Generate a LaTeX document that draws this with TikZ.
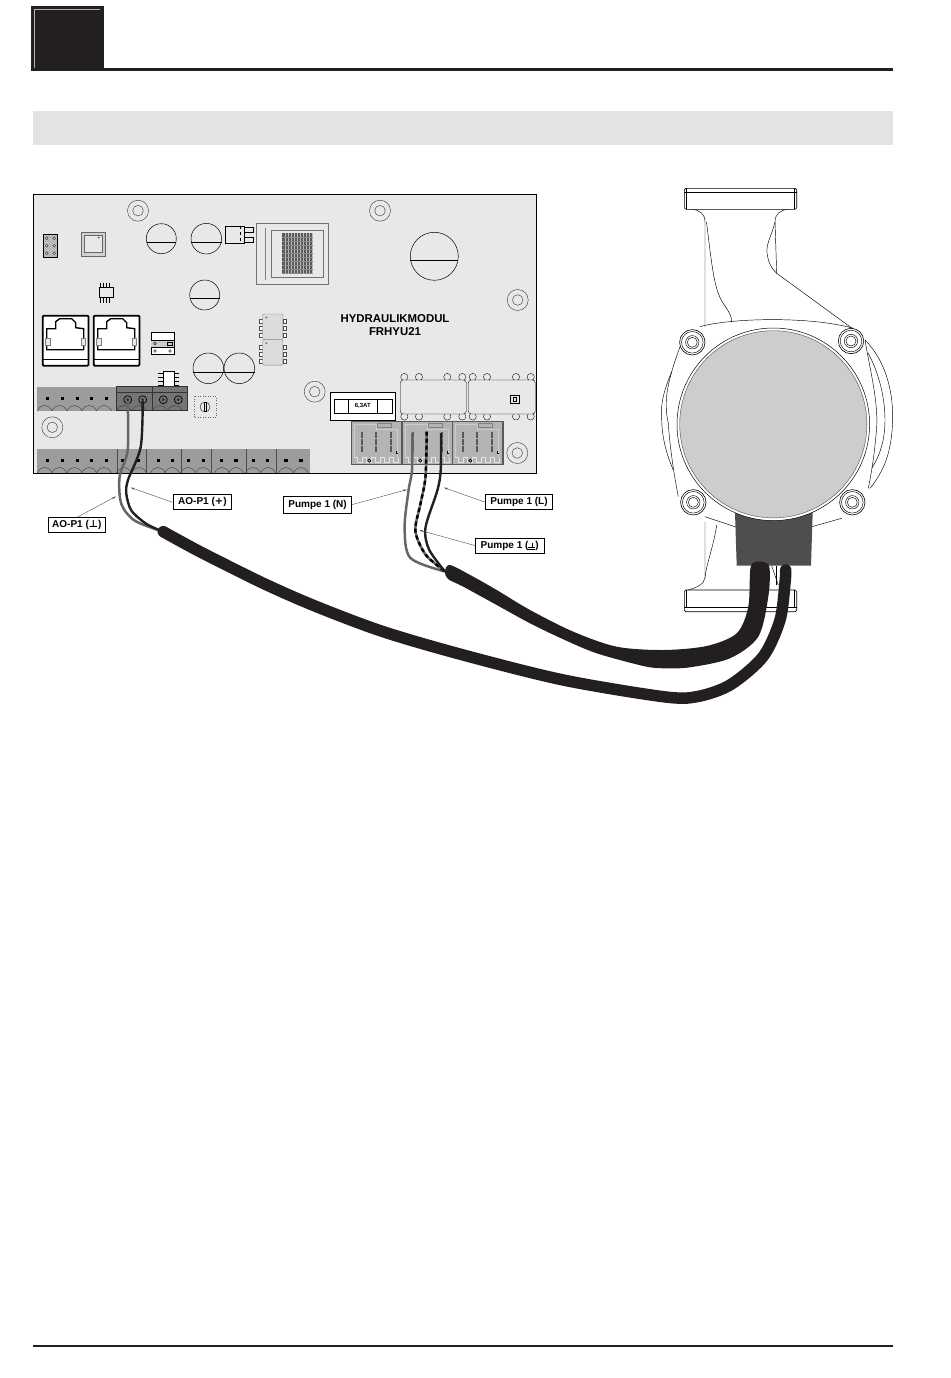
\documentclass[tikz,border=0pt]{standalone}
\usepackage{fontspec}
\setmainfont{Liberation Sans}
\newfontfamily\glyphfont{DejaVu Sans}
\usetikzlibrary{arrows.meta}

\definecolor{boardgray}{HTML}{E8E8E8}
\definecolor{termgray}{HTML}{9C9C9C}
\definecolor{termdark}{HTML}{757575}
\definecolor{plugkgray}{HTML}{B4B4B4}
\definecolor{ink}{HTML}{231F20}
\definecolor{stator}{HTML}{CDCDCE}
\definecolor{boxgray}{HTML}{4F4D4D}

% earth mark, no listed font has it
\newcommand{\earthmark}{\makebox[7pt]{\rlap{\rule[-1.6pt]{7pt}{0.8pt}}\rlap{\rule[0.6pt]{7pt}{0.8pt}}\hspace{3.1pt}\rule[0.6pt]{0.8pt}{5pt}\hspace{3.1pt}}}

\begin{document}
\begin{tikzpicture}[x=1pt,y=-1pt,
    part/.style={draw=black, line width=0.35pt},
    partfill/.style={part, fill=boardgray},
    hole/.style={draw=black!80, line width=0.4pt},
    capline/.style={draw=black, line width=0.5pt},
    termline/.style={draw=black!75, line width=0.4pt},
    outline/.style={draw=black, line width=0.45pt},
    tag/.style={draw=black, fill=white, line width=0.7pt, inner sep=0pt, font=\bfseries\fontsize{10}{11}\selectfont},
    leader/.style={-{Stealth[length=4pt,width=2pt]}, draw=black!70, line width=0.4pt},
    wiregray/.style={draw=black!60, line width=2.5pt},
    wireblack/.style={draw=ink, line width=2.4pt},
    cable/.style={draw=ink, line cap=round}
]
    % Page head and foot
    \fill[ink] (31,6) rectangle (103.5,71);
    \draw[white!70!black, line width=0.7pt] (34.7,68) -- (34.7,9.3) -- (100,9.3);
    \draw[ink, line width=3pt] (103,69.7) -- (893,69.7);
    \fill[black!11] (33,111) rectangle (893,145);
    \draw[ink, line width=2pt] (33,1346) -- (893,1346);

    % Board
    \draw[fill=boardgray, draw=black, line width=0.9pt] (33.5,194.5) rectangle (536.5,473.5);

    % Mounting holes
    \foreach \x/\y in {138/210.7, 380/210.7, 517.7/300, 314.7/391.7, 517.3/453, 52.3/427.3} {
        \draw[hole] (\x,\y) circle (10.5);
        \draw[hole] (\x,\y) circle (5.3);
    }

    % Capacitors
    \foreach \x/\y/\r in {161.3/238.7/15, 206.3/238.7/15.3, 204.7/295/15, 208.3/368.3/15.3, 239.3/368.3/15.3, 434.3/256.3/24} {
        \draw[capline] (\x,\y) circle (\r);
    }
    \draw[capline] (146.6,242) -- (176,242);
    \draw[capline] (191.1,242) -- (221.5,242);
    \draw[capline] (189.8,298) -- (219.6,298);
    \draw[capline] (193,372) -- (223.5,372);
    \draw[capline] (224,372) -- (254.5,372);
    \draw[capline] (410.4,260.3) -- (458.1,260.3);

    % Pin header and square chip
    \draw[part, fill=boardgray!80!black] (43.3,234.3) rectangle (57.3,256.7);
    \foreach \y in {238.3, 245.7, 253.3} {
        \draw[part, fill=white] (46.7,\y) circle (1.4);
        \draw[part, fill=white] (54.3,\y) circle (1.4);
    }
    \draw[draw=black!60, line width=0.5pt, fill=boardgray!90!black] (81,232.3) rectangle (105,256.7);
    \draw[draw=black!60, line width=0.5pt, fill=boardgray] (84.3,235.3) rectangle (102,252.7);
    \fill[black!60] (98.7,237.5) circle (1.2);

    % Small chip above the sockets
    \foreach \x in {100.5, 103.5, 106.5, 109.5} {
        \draw[black, line width=0.8pt] (\x,282.7) -- (\x,287.7);
        \draw[black, line width=0.8pt] (\x,297.3) -- (\x,302.7);
    }
    \draw[black, line width=0.9pt, fill=boardgray] (99.3,287.7) rectangle (113.3,297.3);

    % Sockets
    \foreach \x in {42.7, 93.7} {
        \begin{scope}[shift={(\x,315.7)}]
            \draw[draw=black, fill=white, line width=1.8pt, rounded corners=1pt] (0,0) rectangle (45.8,50);
            \draw[black, line width=0.4pt] (0,43) -- (45.8,43);
            \draw[black, line width=1.4pt] (4,34) -- (4,13) -- (13,13) -- (13,6) -- (17,3) -- (29,3) -- (33,7) -- (33,12) -- (41,13) -- (41,34) -- cycle;
            \draw[draw=black!50, fill=boardgray, line width=0.3pt] (2.5,22) rectangle (7,29);
            \draw[draw=black!50, fill=boardgray, line width=0.3pt] (38,22) rectangle (42.5,29);
        \end{scope}
    }

    % Small switch
    \draw[part, fill=white] (151.3,332.3) rectangle (174,354.3);
    \fill[black!20] (151.3,340) rectangle (174,346.7);
    \draw[part] (151.3,340) -- (174,340) (151.3,346.7) -- (174,346.7);
    \foreach \x/\y in {155/343.5, 155/351, 170/351} {\draw[part] (\x,\y) circle (1.4);}
    \draw[part] (167.5,342) rectangle (172,345.5);

    % Optocouplers
    \foreach \y in {314, 339.7} {
        \foreach \o in {5, 12, 19} {
            \draw[draw=black!70, line width=0.35pt, fill=white] (259.5,\y+\o) rectangle (262.7,\y+\o+4);
            \draw[draw=black!70, line width=0.35pt, fill=white] (282.7,\y+\o) rectangle (286,\y+\o+4);
        }
        \draw[draw=black!50, fill=boardgray!95!black, line width=0.4pt, rounded corners=1pt] (262.7,\y) rectangle (282.7,\y+25.4);
        \fill[black!60] (266.3,\y+3.5) circle (1);
    }

    % Transistor
    \draw[part, fill=boardgray] (244,226.7) -- (253.3,226.7) -- (253.3,231.7) -- (244,231.7) (244,236.7) -- (253.3,236.7) -- (253.3,241.7) -- (244,241.7);
    \draw[part, fill=boardgray] (225,226) rectangle (244,243.3);
    \draw[part, dashed, line width=0.3pt] (240,226) -- (240,243.3);

    % Transformer
    \draw[draw=black!55, line width=0.5pt, fill=boardgray] (256.3,223) rectangle (328.3,284.3);
    \draw[black!50, line width=0.4pt] (265,228) -- (265,280);
    \draw[draw=black!55, line width=0.5pt, fill=boardgray] (271.7,230) rectangle (323.3,277.3);
    \fill[black!65] (282.3,233.3) rectangle (312.7,273.3);
    \foreach \x in {285, 288, ..., 312} {\draw[black!25, line width=0.35pt] (\x,233.3) -- (\x,273.3);}
    \foreach \y in {237, 241, ..., 273} {\draw[black!45, line width=0.25pt] (282.3,\y) -- (312.7,\y);}

    % Chip above the terminals
    \foreach \y in {373, 377.5, 381.5, 385.5} {
        \draw[black, line width=0.8pt] (158.3,\y) -- (179,\y);
    }
    \draw[black, line width=0.6pt, fill=white] (163.3,371) rectangle (174,387);

    % Terminal strips
    \fill[termgray] (37.3,386.7) rectangle (116.7,411.3);
    \fill[termdark] (116.7,386.7) rectangle (187.7,410.7);
    \fill[termgray] (37.3,449.3) rectangle (310,473);
    \draw[black!80, line width=0.5pt] (116.7,386.7) rectangle (152.7,410.7) (152.7,386.7) rectangle (187.7,410.7);
    \draw[black!80, line width=0.5pt] (116.7,392) -- (187.7,392);
    \foreach \x in {116.7, 146, 181, 211, 246, 276} {\draw[black!70, line width=0.4pt] (\x,449.3) -- (\x,473);}
    \foreach \x in {44.7, 59.5, 74.5, 89.2, 104, 124, 139, 160, 175} {
        \draw[termline] (\x-7.5,411) .. controls (\x-4,403.5) and (\x+4,403.5) .. (\x+7.5,411);
    }
    \foreach \x in {44.7, 59.5, 74.5, 89.2, 104, 124, 139, 158, 172, 188, 203, 222, 236, 253, 268, 286, 301} {
        \draw[termline] (\x-7.5,473) .. controls (\x-4,465.5) and (\x+4,465.5) .. (\x+7.5,473);
    }
    \foreach \x in {47.7, 62.3, 77.3, 91.7, 106.7} {\fill[black] (\x-1.7,397) rectangle (\x+1.7,400.4);}
    \foreach \x in {47.7, 62.3, 77.3, 91.7, 106.7, 123, 138, 158.3, 172.3, 188.3, 203.3, 221.7, 236, 253.3, 267.7, 286, 301} {
        \fill[black] (\x-1.7,459) rectangle (\x+1.7,462.4);
    }
    \foreach \x in {127.7, 142.7, 163.3, 178.3} {
        \draw[draw=black, fill=black!55, line width=0.7pt] (\x,399.7) circle (4);
        \fill[black!80] (\x,399.7) circle (1.7);
    }

    % Trim pot
    \draw[draw=black!60, dotted, line width=0.5pt, fill=boardgray] (194.3,396) rectangle (216,417.5);
    \draw[part] (205,407) circle (5);
    \draw[part] (204,402) rectangle (206,411);

    % Fuse
    \draw[draw=black, fill=white, line width=0.8pt] (330.3,392.3) rectangle (395.3,420.3);
    \draw[draw=black, line width=0.6pt] (334.3,399) rectangle (392.3,413);
    \draw[draw=black, line width=0.6pt] (348.3,399) -- (348.3,413) (377.3,399) -- (377.3,413);
    \node[font=\bfseries\fontsize{6}{7}\selectfont, inner sep=0pt] (fuselabel) at (362.8,406) {6,3AT};

    % Relays
    \foreach \x in {404.3, 419, 447.3, 462.3, 472.7, 487, 516, 530.7} {
        \draw[partfill] (\x,377) circle (3.6);
        \draw[partfill] (\x,416.5) circle (3.6);
    }
    \draw[partfill, rounded corners=3pt] (400.3,380) rectangle (466.3,414);
    \draw[partfill, rounded corners=3pt] (468.3,380) rectangle (535.3,414);
    \draw[black, line width=0.5pt] (510.7,395) rectangle (519.3,403.3);
    \draw[black, line width=0.5pt] (513.5,397.5) rectangle (516.5,400.8);

    % Pump plugs
    \foreach \x in {351.3, 402.3, 452.3} {
        \begin{scope}[shift={(\x,421.7)}]
            \draw[draw=black!65, fill=plugkgray, line width=1.2pt] (0,0) rectangle (50.6,42.6);
            \draw[white!80!black, line width=0.5pt] (3,36) -- (3,3) -- (25,3) -- (25,8) -- (46,8) -- (46,36);
            \draw[black!50, line width=0.5pt] (26,2) -- (40,2) -- (40,6) -- (26,6) -- cycle;
            \draw[white!90!black, line width=0.5pt] (3,36) -- (6,36) -- (6,41) -- (11,41) -- (11,36) -- (15,36) -- (15,41) -- (20,41) -- (20,36) -- (24,36) -- (24,41) -- (29,41) -- (29,36) -- (33,36) -- (33,41) -- (38,41) -- (38,36) -- (42,36) -- (42,41) -- (47,41) -- (47,36);
            \draw[black, line width=0.7pt] (18,39) circle (1.6);
            \draw[black, line width=0.5pt] (44.5,29) -- (44.5,32) -- (46.5,32);
            \foreach \o in {10.3, 24.7, 39.7} {
                \draw[black!65, line width=2pt, dash pattern=on 3pt off 0.5pt] (\o,10) -- (\o,31);
            }
        \end{scope}
    }

    % Wires
    \coordinate (aoground) at (127.7,401);
    \coordinate (aoplus) at (142.7,401);
    \coordinate (pumpneutral) at (412.3,433);
    \coordinate (pumpearth) at (426.7,431.7);
    \coordinate (pumpline) at (441,433);
    \coordinate (cableaostart) at (163.3,531.7);
    \coordinate (cablepumpstart) at (445,571.5);
    \draw[wiregray] plot[smooth] coordinates {(aoground) (127.7,450) (119.6,476.8) (121.3,503.8) (134.8,520.7) (cableaostart)};
    \draw[wireblack] plot[smooth] coordinates {(aoplus) (140.7,447) (128,480) (126.3,493.7) (131.4,510.6) (146.6,524) (cableaostart)};
    \draw[wiregray] plot[smooth] coordinates {(pumpneutral) (412,470) (408.6,490) (404.6,527.5) (410.3,557.9) (cablepumpstart)};
    \draw[wiregray] plot[smooth] coordinates {(pumpearth) (425.5,476.8) (420.5,503.8) (415.4,530.9) (425.5,554.5) (cablepumpstart)};
    \draw[black, line width=2.4pt, dash pattern=on 4pt off 3pt] plot[smooth] coordinates {(pumpearth) (425.5,476.8) (420.5,503.8) (415.4,530.9) (425.5,554.5) (cablepumpstart)};
    \draw[wireblack] plot[smooth] coordinates {(pumpline) (440.7,470) (437.4,490.3) (425.5,527.5) (429,549.4) (cablepumpstart)};

    % Board text
    \node[font=\bfseries\fontsize{11.4}{13}\selectfont, align=center, inner sep=0pt] (boardname) at (395,325) {HYDRAULIKMODUL\\FRHYU21};

    % Labels
    \node[tag, minimum width=57.8pt, minimum height=14.5pt] (tagground) at (76.8,525) {AO-P1 ({\glyphfont\bfseries ⊥})};
    \node[tag, minimum width=58.8pt, minimum height=15pt] (tagplus) at (202.4,502.3) {AO-P1 ({\glyphfont\bfseries +})};
    \node[tag, minimum width=68.3pt, minimum height=16.5pt] (tagneutral) at (317.6,504.6) {Pumpe 1 (N)};
    \node[tag, minimum width=66.6pt, minimum height=15pt] (tagline) at (519,502.3) {Pumpe 1 (L)};
    \node[tag, minimum width=68.3pt, minimum height=15pt] (tagearth) at (509.7,545.6) {Pumpe 1 (\earthmark)};

    % Arrows
    \coordinate (tipground) at (116,496.4);
    \coordinate (tipplus) at (130.7,487.6);
    \coordinate (tipneutral) at (407,489.6);
    \coordinate (tipline) at (444,487.6);
    \coordinate (tipearth) at (419.5,530.2);
    \draw[leader] (tagground.north) -- (tipground);
    \draw[leader] (tagplus.west) -- (tipplus);
    \draw[leader] (tagneutral.east) -- (tipneutral);
    \draw[leader] (tagline.west) -- (tipline);
    \draw[leader] (tagearth.west) -- (tipearth);

    % Pump body
    \draw[outline] (691.7,209.3) .. controls (700,210) and (705,214) .. (705,222) -- (705,326.7);
    \draw[outline] (706.5,222) .. controls (710,250) and (713,280) .. (718.3,293.3) .. controls (722,305) and (732,312) .. (731.7,322);
    \draw[outline] (788.3,209.3) .. controls (780,210) and (775,214) .. (775,222) .. controls (772,235) and (765,245) .. (767.3,255) .. controls (769,265) and (773,270) .. (776.7,273.3) -- (856.7,331.7);
    \draw[outline] (775,222) -- (776.7,273.3);
    \draw[outline] (705,522) -- (705,578) .. controls (704,585) and (695,588) .. (688,590);
    \draw[outline] (716.7,525) .. controls (714,545) and (706,565) .. (705,578);
    \draw[outline] (771.7,566) -- (778.3,585);
    \draw[outline] (776.7,566) -- (776.7,585);

    % Flanges
    \draw[draw=black, line width=0.6pt, fill=white, rounded corners=1.5pt] (684.3,188.3) rectangle (796.7,209.3);
    \draw[outline] (684.3,192.3) -- (796.7,192.3);
    \draw[outline] (686.7,188.3) -- (686.7,209.3) (794.3,188.3) -- (794.3,209.3);
    \draw[draw=black, line width=0.6pt, fill=white, rounded corners=1.5pt] (684.3,590) rectangle (796.7,611.7);
    \draw[outline] (684.3,607.7) -- (796.7,607.7);
    \draw[outline] (686.7,590) -- (686.7,607.7) (794.3,590) -- (794.3,607.7);

    % Volute plate
    \draw[outline] (700,326.7) .. controls (730,318) and (810,316) .. (853.3,328.3);
    \draw[outline] (680,346.7) .. controls (668,380) and (663,400) .. (668.3,423.3) .. controls (670,450) and (675,480) .. (678.3,496.7);
    \draw[outline] (865,340) .. controls (870,370) and (878,400) .. (876.7,426.7) .. controls (875,450) and (872,470) .. (868.3,488.3);
    \draw[outline] (705,516.7) -- (735,526.7);
    \draw[outline] (811.7,526.7) -- (841.7,518.3);
    \draw[outline] (865,340) .. controls (885,360) and (893,390) .. (892.7,418.3) .. controls (892,450) and (885,470) .. (870,488.3);
    \draw[outline] (868,353) .. controls (880,375) and (885,400) .. (885,420) .. controls (885,440) and (880,455) .. (872,468);
    \draw[outline] (671.7,371.7) .. controls (664,390) and (660,405) .. (661.7,420) .. controls (662,440) and (668,458) .. (673.3,470);

    % Pump bolts
    \foreach \x/\y in {692.3/342.3, 851/341, 693.3/502.3, 852.3/502.3} {
        \draw[draw=black, fill=white, line width=0.6pt] (\x,\y) circle (12.7);
        \draw[outline] (\x,\y) circle (10.8);
        \draw[outline] (\x,\y) circle (6.7);
        \draw[outline] (\x,\y) circle (5);
    }

    % Pump head
    \fill[boxgray] (735,513) -- (812.7,511.7) -- (811,565.7) -- (736.7,565.7) -- cycle;
    \draw[draw=black, fill=white, line width=0.5pt] (773.3,424.3) circle (96.3);
    \draw[draw=black!70, fill=stator, line width=0.4pt] (773.3,424.3) circle (93.6);

    % Cables
    \coordinate (cableaoend) at (785.7,570);
    \coordinate (cablepumpend) at (760,561.7);
    \draw[cable, line width=11.5pt] plot[smooth] coordinates {(cableaostart) (200,551.7) (263.3,583.3) (316.7,606.7) (383.3,631.7) (463.3,655) (563.3,680) (663.3,696.7) (696.7,696.7) (730,685) (763,656.7) (780,620) (785,583) (cableaoend)};
    \fill[ink] plot[smooth cycle, tension=0.5] coordinates {(cablepumpstart) (450,565) (473.3,576.7) (496.7,590) (530,610) (573.3,631.7) (616.7,646.7) (663.3,650) (706.7,646) (736.7,633.3) (748.3,606.7) (750.7,566.7) (cablepumpend) (769.3,566.7) (768.3,596.7) (758.3,636.7) (730,658.3) (690,667.3) (663.3,668.3) (643.3,666) (596.7,653.3) (563.3,639.3) (530,623.3) (496.7,605) (463.3,586.7) (448,579)};

    \useasboundingbox (0,0) rectangle (950,1378);
\end{tikzpicture}
\end{document}
